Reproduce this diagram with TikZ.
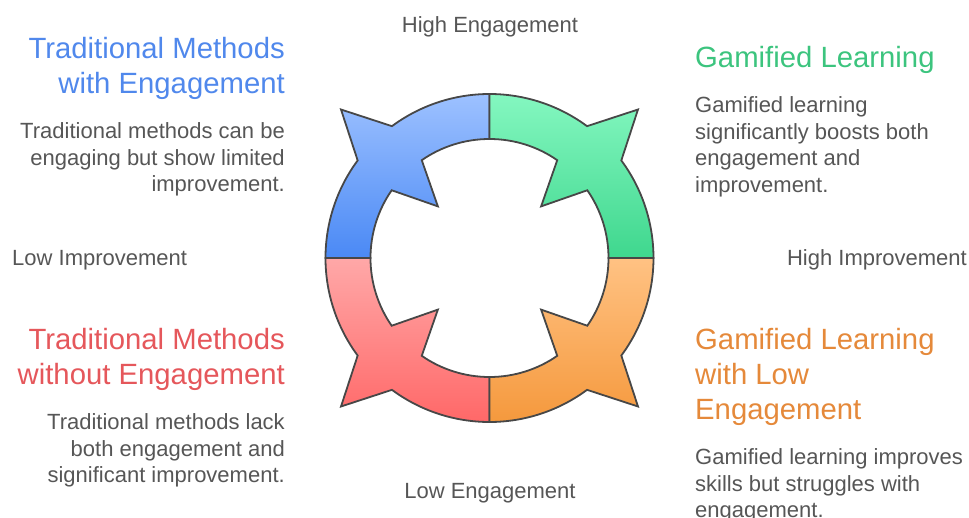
\documentclass[tikz,border=0pt]{standalone}
\usepackage{fontspec}
\setmainfont{Liberation Sans}
\usetikzlibrary{positioning}
\definecolor{blueT}{HTML}{9DC1FF}
\definecolor{blueB}{HTML}{4A89F5}
\definecolor{greenT}{HTML}{84F7C0}
\definecolor{greenB}{HTML}{3FD78E}
\definecolor{redT}{HTML}{FFA8A8}
\definecolor{redB}{HTML}{FF6868}
\definecolor{orangeT}{HTML}{FFC283}
\definecolor{orangeB}{HTML}{F5993D}
\definecolor{blueTxt}{HTML}{5088EC}
\definecolor{greenTxt}{HTML}{3CC47E}
\definecolor{redTxt}{HTML}{E5575B}
\definecolor{orangeTxt}{HTML}{E5893A}
\definecolor{bodyTxt}{HTML}{565656}
\definecolor{rim}{HTML}{474747}
\tikzset{
  piece/.style={draw=rim, line width=1.8pt, line join=miter},
  title/.style={inner sep=0pt, font=\fontsize{29.3}{35}\selectfont},
  body/.style={inner sep=0pt, text=bodyTxt, font=\fontsize{22}{26.4}\selectfont},
  axis/.style={inner sep=0pt, text=bodyTxt, font=\fontsize{22}{26}\selectfont}
}
\begin{document}
\begin{tikzpicture}[x=1pt,y=1pt]
\useasboundingbox (-489.5,-259) rectangle (479.5,258);
\coordinate[] (O) at (0,0);
\coordinate[] (TL) at (-204.5,221);
\coordinate[] (TR) at (205.5,212);
\coordinate[] (BL) at (-204.5,-70);
\coordinate[] (BR) at (205.5,-70);
% ring of four arrows
\foreach \s/\ct/\cb in {90/blueT/blueB, 0/greenT/greenB, 180/redT/redB, 270/orangeT/orangeB}
  \draw[piece, top color=\ct, bottom color=\cb]
    (\s:164) arc[start angle=\s, end angle=\s+36.5, radius=164]
    -- ({\s+45}:210) -- ({\s+53.5}:164)
    arc[start angle=\s+53.5, end angle=\s+90, radius=164]
    -- ({\s+90}:119) arc[start angle=\s+90, end angle=\s+55.3, radius=119]
    -- ({\s+45}:73) -- ({\s+34.7}:119)
    arc[start angle=\s+34.7, end angle=\s, radius=119] -- cycle;
% axis labels
\node (he) [axis, anchor=base] at (0.5,225.3) {High Engagement};
\node (le) [axis, anchor=base] at (0.5,-240.7) {Low Engagement};
\node (li) [axis, anchor=base west] at (-477.5,-7.7) {Low Improvement};
\node (hi) [axis, anchor=base east] at (477.5,-7.7) {High Improvement};
% quadrant texts
\node (tlt) [title, text=blueTxt, align=right, anchor=north east] at (TL) {Traditional Methods\\with Engagement};
\node (tlb) [body, align=right, below=23pt of tlt.south east, anchor=north east] {Traditional methods can be\\engaging but show limited\\improvement.};
\node (trt) [title, text=greenTxt, align=left, anchor=north west] at (TR) {Gamified Learning};
\node (trb) [body, align=left, below=23pt of trt.south west, anchor=north west] {Gamified learning\\significantly boosts both\\engagement and\\improvement.};
\node (blt) [title, text=redTxt, align=right, anchor=north east] at (BL) {Traditional Methods\\without Engagement};
\node (blb) [body, align=right, below=23pt of blt.south east, anchor=north east] {Traditional methods lack\\both engagement and\\significant improvement.};
\node (brt) [title, text=orangeTxt, align=left, anchor=north west] at (BR) {Gamified Learning\\with Low\\Engagement};
\node (brb) [body, align=left, below=23pt of brt.south west, anchor=north west] {Gamified learning improves\\skills but struggles with\\engagement.};
\end{tikzpicture}
\end{document}
